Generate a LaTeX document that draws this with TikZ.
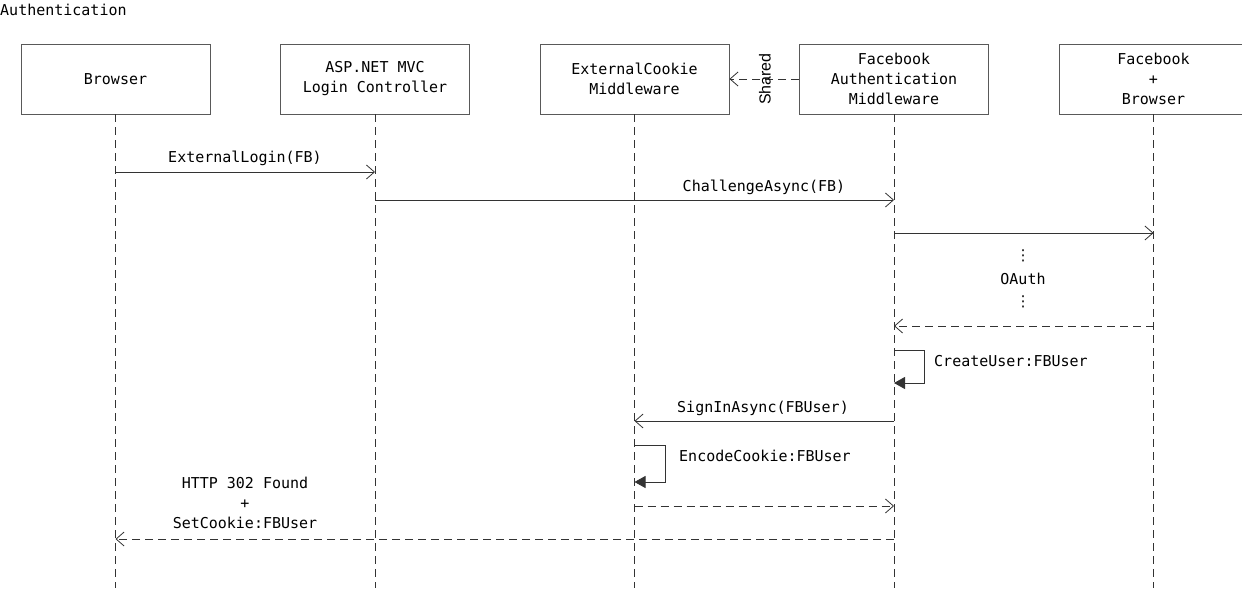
\documentclass[tikz,border=0pt]{standalone}
\usepackage{fontspec}
\setmonofont{DejaVu Sans Mono}
\newfontfamily\sharedfont{Liberation Sans}
\newfontfamily\symfont{DejaVu Sans}
\usetikzlibrary{arrows.meta}
\begin{document}
\begin{tikzpicture}[x=1pt,y=-1pt,
  every node/.style={font=\ttfamily\fontsize{15}{20}\selectfont, text=black},
  actor/.style={draw=black!65, line width=0.9pt, minimum width=189pt, minimum height=70pt, align=center, inner sep=0pt},
  life/.style={draw=black!80, line width=0.8pt, dash pattern=on 8pt off 5pt},
  msg/.style={draw=black!80, line width=0.8pt, -{Straight Barb[length=8pt,width=14pt,line width=0.8pt]}},
  ret/.style={msg, dash pattern=on 8pt off 5pt},
  self/.style={draw=black!80, line width=0.8pt, -{Triangle[length=11pt,width=12pt]}},
  lbl/.style={inner sep=0pt, align=center},
  vdots/.style={lbl, font=\symfont\fontsize{15}{20}\selectfont}
]
\useasboundingbox (0,0) rectangle (1242,596);
\begin{scope}
\clip (0,0) rectangle (1242,596);
\node[lbl, anchor=west] (title) at (0,10) {Authentication};

\node[actor] (b1) at (115.5,79) {Browser};
\node[actor] (b2) at (375,79) {ASP.NET MVC\\Login Controller};
\node[actor] (b3) at (634.5,79) {ExternalCookie\\Middleware};
\node[actor] (b4) at (894,79) {Facebook\\Authentication\\Middleware};
\node[actor] (b5) at (1153.5,79) {Facebook\\+\\Browser};

\foreach \b in {b1,b2,b3,b4,b5} {
  \coordinate (\b end) at (\b.south |- 0,588);
  \draw[life] (\b.south) -- (\b end);
}

% Shared
\draw[ret] (b4.west) -- (b3.east);
\node[lbl, rotate=90, font=\sharedfont\fontsize{16}{18}\selectfont] (shared) at (765,79) {Shared};

% messages
\draw[msg] (b1.south |- 0,172) -- (b2.south |- 0,172);
\node[lbl] (m1) at (245,158) {ExternalLogin(FB)};

\draw[msg] (b2.south |- 0,200) -- (b4.south |- 0,200);
\node[lbl] (m2) at (764,187) {ChallengeAsync(FB)};

\draw[msg] (b4.south |- 0,233) -- (b5.south |- 0,233);

\node[vdots] (d1) at (1023,256) {⋮};
\node[lbl] (oauth) at (1023,279) {OAuth};
\node[vdots] (d2) at (1023,302) {⋮};

\draw[ret] (b5.south |- 0,326) -- (b4.south |- 0,326);

\draw[self] (b4.south |- 0,350) -- (924,350) -- (924,383) -- (b4.south |- 0,383);
\node[lbl, anchor=west] (cu) at (934,361) {CreateUser:FBUser};

\draw[msg] (b4.south |- 0,421) -- (b3.south |- 0,421);
\node[lbl] (m3) at (763,408) {SignInAsync(FBUser)};

\draw[self] (b3.south |- 0,445) -- (665,445) -- (665,482) -- (b3.south |- 0,482);
\node[lbl, anchor=west] (ec) at (679,456) {EncodeCookie:FBUser};

\draw[ret] (b3.south |- 0,506) -- (b4.south |- 0,506);

\draw[ret] (b4.south |- 0,539) -- (b1.south |- 0,539);
\node[lbl] (http) at (245,503) {HTTP 302 Found\\+\\SetCookie:FBUser};
\end{scope}
\end{tikzpicture}
\end{document}
